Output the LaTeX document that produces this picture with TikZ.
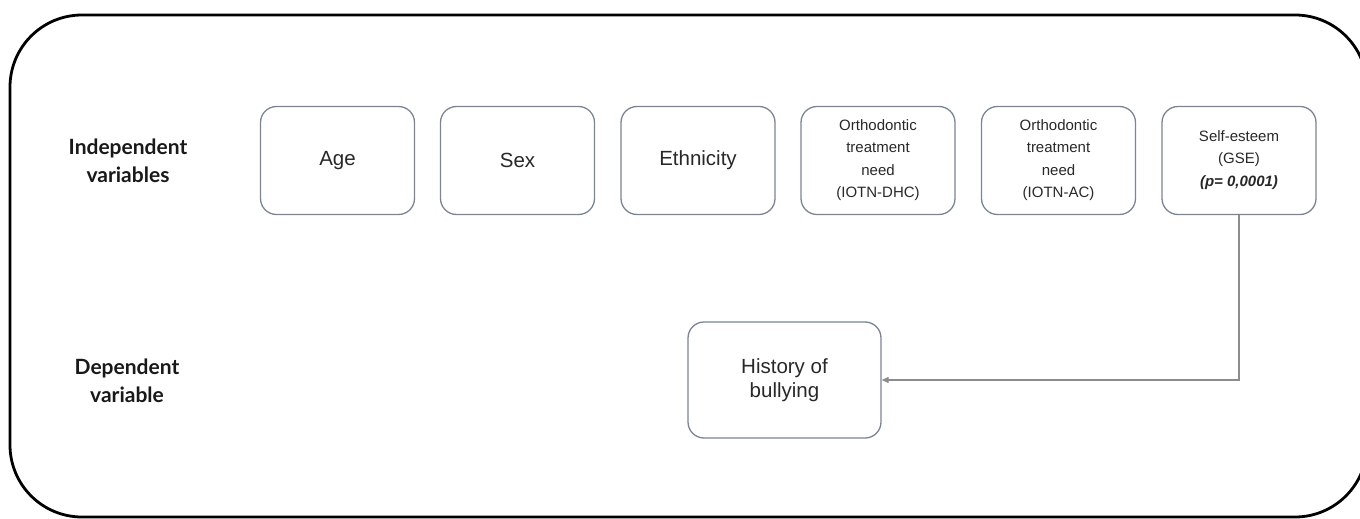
\documentclass[tikz,border=0pt]{standalone}
\usepackage{fontspec}
\setmainfont{Liberation Sans}
\newfontfamily\labfont{Lato}
\usetikzlibrary{arrows.meta}
\definecolor{boxline}{RGB}{122,132,150}
\definecolor{txt}{RGB}{40,40,40}
\definecolor{arr}{RGB}{140,140,140}
\begin{document}
\begin{tikzpicture}[x=1pt,y=-1pt,
  vbox/.style={draw=boxline,line width=1.3pt,rounded corners=16pt,minimum width=154pt,minimum height=108pt,align=center,text=txt,inner sep=2pt},
  big/.style={font=\fontsize{20.5}{24}\selectfont},
  small/.style={font=\fontsize{15}{22.5}\selectfont,text depth=4pt},
  lab/.style={align=center,font=\labfont\bfseries\fontsize{21}{28}\selectfont,text=black!90}]
\useasboundingbox (0,0) rectangle (1360,519);
\draw[line width=2.8pt,rounded corners=72pt] (10,15) rectangle (1367,517);
\node[lab] (ind) at (128,161) {Independent\\variables};
\node[lab] (dep) at (127,381) {Dependent\\variable};
\node[vbox,big] (age) at (337.5,160.5) {Age};
\node[vbox,big] (sex) at (517.5,160.5) {Sex};
\node[vbox,big] (eth) at (698,160.5) {Ethnicity};
\node[vbox,small] (dhc) at (878,160.5) {Orthodontic\\treatment\\need\\(IOTN-DHC)};
\node[vbox,small] (ac) at (1058.5,160.5) {Orthodontic\\treatment\\need\\(IOTN-AC)};
\node[vbox,small] (gse) at (1239,160.5) {Self-esteem\\(GSE)\\\textbf{\textit{(p= 0,0001)}}};
\node[vbox,big,minimum width=193pt,minimum height=116pt] (hob) at (784.5,380) {History of\\bullying};
\draw[arr,line width=1.2pt,-{Triangle[length=7pt,width=6pt]}] (gse.south) |- (hob.east);
\end{tikzpicture}
\end{document}
